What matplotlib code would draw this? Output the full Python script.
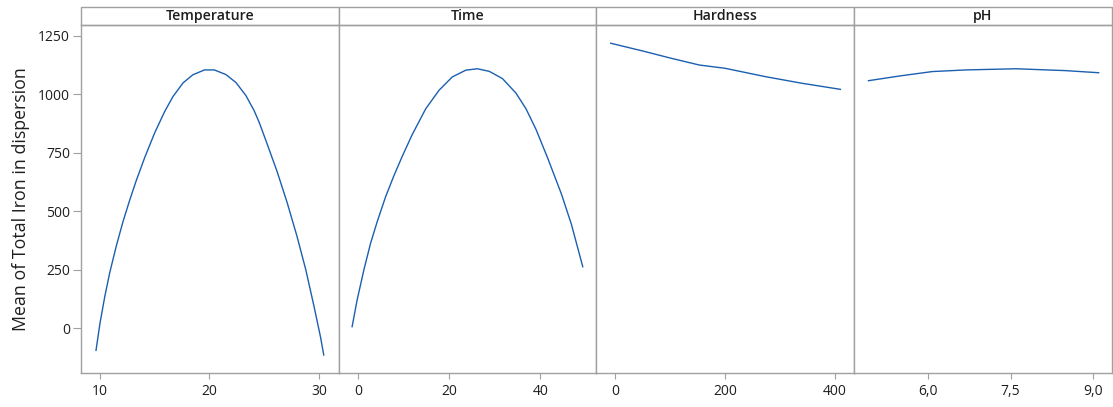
import matplotlib
matplotlib.use("Agg")
import matplotlib.pyplot as plt
from matplotlib.patches import Rectangle

# main effects (fitted means)
factors = ["Temperature", "Time", "Hardness", "pH"]

temp_x = [9.64, 10.0, 10.45, 10.9, 11.5, 12.1, 12.7, 13.3, 14.1, 15.0, 15.9, 16.67, 17.58, 18.48,
          19.55, 20.45, 21.52, 22.43, 23.33, 24.09, 24.55, 25.3, 26.2, 27.1, 28.0, 28.8, 29.55,
          30.15, 30.45]
temp_y = [-94, 21, 138, 239, 353, 455, 545, 629, 731, 835, 925, 990, 1048, 1083,
          1104, 1104, 1084, 1050, 995, 930, 880, 785, 668, 538, 394, 252, 96,
          -36, -114]

time_x = [-1.25, -0.15, 1.32, 2.79, 4.24, 6.09, 7.91, 9.74, 11.93, 14.88, 17.8, 20.7, 23.67,
          26.2, 28.8, 31.7, 34.66, 36.86, 39.05, 41.6, 44.6, 46.8, 49.3]
time_y = [7, 121, 249, 363, 455, 562, 652, 735, 828, 938, 1017, 1074, 1103,
          1109, 1098, 1067, 1005, 938, 850, 728, 575, 445, 263]

hard_x = [-8, 50, 100, 153, 200, 274, 340, 410]
hard_y = [1218, 1185, 1155, 1125, 1111, 1075, 1047, 1021]

ph_x = [4.92, 5.48, 6.08, 6.69, 7.6, 8.5, 9.1]
ph_y = [1058, 1078, 1097, 1104, 1109, 1101, 1092]

xticks = [[10, 20, 30], [0, 20, 40], [0, 200, 400], [6.0, 7.5, 9.0]]
xticklabels = [["10", "20", "30"], ["0", "20", "40"], ["0", "200", "400"], ["6,0", "7,5", "9,0"]]
xlims = [(8.27, 31.82), (-4.18, 52.3), (-34, 435), (4.66, 9.34)]
yticks = [0, 250, 500, 750, 1000, 1250]

plt.rcParams['font.family'] = ['Open Sans', 'DejaVu Sans']
grey = '#a0a0a0'
blue = '#1a5fb0'
txt = '#1e1e1e'

fig, axes = plt.subplots(1, 4, figsize=(11.13, 4.07), dpi=100, sharey=True)
fig.subplots_adjust(left=0.0728, right=0.999, bottom=0.0835, top=0.9386, wspace=0)

series = [(temp_x, temp_y), (time_x, time_y), (hard_x, hard_y), (ph_x, ph_y)]
strip_h = 18 / 348

for i, ax in enumerate(axes):
    xs, ys = series[i]
    ax.plot(xs, ys, color=blue, lw=1.0, solid_joinstyle='round')
    ax.set_xlim(*xlims[i])
    ax.set_ylim(-191, 1296)
    ax.set_xticks(xticks[i])
    ax.set_xticklabels(xticklabels[i])
    for s in ax.spines.values():
        s.set_color(grey)
        s.set_linewidth(1.0)
    ax.tick_params(axis='x', length=4, color=grey, pad=4, labelsize=10, labelcolor=txt)
    ax.tick_params(axis='y', length=6, color=grey, pad=2, labelsize=10, labelcolor=txt)
    if i > 0:
        ax.tick_params(axis='y', left=False)
    # header strip
    ax.add_patch(Rectangle((0, 1), 1, strip_h, transform=ax.transAxes, clip_on=False,
                           facecolor='white', edgecolor=grey, lw=1.0))
    ax.text(0.5, 1 + strip_h / 2, factors[i], transform=ax.transAxes, ha='center', va='center',
            fontsize=10.2, fontweight='semibold', color=txt)

axes[0].set_yticks(yticks)
axes[0].set_ylabel("Mean of Total Iron in dispersion", fontsize=12.8, fontweight='medium',
                   color=txt, labelpad=6)

plt.savefig("out.png", dpi=100)
